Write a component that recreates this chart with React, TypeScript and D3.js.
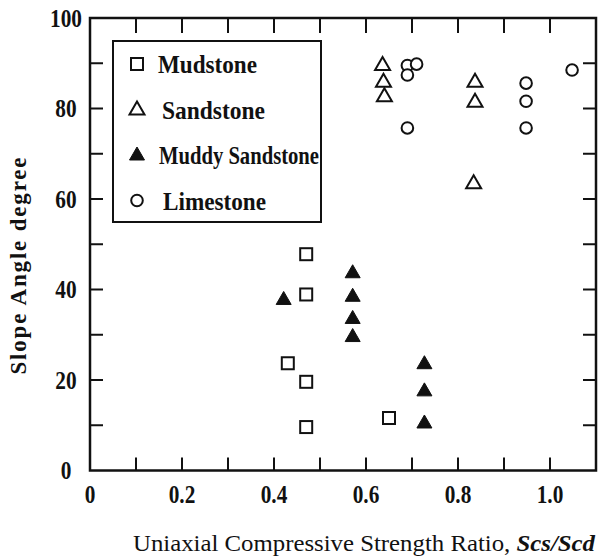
import React, { useEffect, useRef } from "react";
import * as d3 from "d3";

// rock type series: [strength ratio Scs/Scd, slope angle in degrees]
const mudstone: [number, number][] = [
  [0.47, 47.8], [0.47, 38.9], [0.43, 23.7], [0.47, 19.6], [0.47, 9.6], [0.65, 11.6],
];
const sandstone: [number, number][] = [
  [0.636, 89.6], [0.638, 85.9], [0.64, 82.7], [0.837, 85.9], [0.837, 81.5], [0.834, 63.5],
];
const muddySandstone: [number, number][] = [
  [0.421, 37.8], [0.571, 43.7], [0.571, 38.5], [0.571, 33.6], [0.571, 29.6],
  [0.727, 23.6], [0.727, 17.6], [0.727, 10.5],
];
const limestone: [number, number][] = [
  [0.69, 89.5], [0.71, 89.8], [0.69, 87.4], [0.69, 75.7],
  [0.948, 85.6], [0.948, 81.6], [0.948, 75.7], [1.048, 88.5],
];

const xTickLabels = [0, 0.2, 0.4, 0.6, 0.8, 1.0];
const yTickLabels = [0, 20, 40, 60, 80, 100];
const legendNames = ["Mudstone", "Sandstone", "Muddy Sandstone", "Limestone"];

const FONT = "'Liberation Serif', 'DejaVu Serif', serif";

type Kind = "square" | "triangle" | "filledTriangle" | "circle";

const drawMarker = (g: any, kind: Kind, x: number, y: number) => {
  if (kind === "square") {
    g.append("rect")
      .attr("x", x - 6).attr("y", y - 6)
      .attr("width", 12).attr("height", 12)
      .attr("fill", "#fff").attr("stroke", "#111").attr("stroke-width", 2);
  } else if (kind === "circle") {
    g.append("circle")
      .attr("cx", x).attr("cy", y).attr("r", 5.8)
      .attr("fill", "#fff").attr("stroke", "#111").attr("stroke-width", 2);
  } else {
    const filled = kind === "filledTriangle";
    const p = d3.path();
    p.moveTo(x, y - 8);
    p.lineTo(x + 7.5, y + 5);
    p.lineTo(x - 7.5, y + 5);
    p.closePath();
    g.append("path")
      .attr("d", p.toString())
      .attr("fill", filled ? "#111" : "#fff")
      .attr("stroke", "#111")
      .attr("stroke-width", filled ? 1 : 2)
      .attr("stroke-linejoin", "miter");
  }
};

const App = () => {
  const svgRef = useRef<SVGSVGElement>(null);

  useEffect(() => {
    const svg = d3.select(svgRef.current);
    svg.selectAll("*").remove();

    const left = 90, right = 596, top = 18, bottom = 470.5;
    const x = d3.scaleLinear().domain([0, 1.1]).range([left, right]);
    const y = d3.scaleLinear().domain([0, 100]).range([bottom, top]);

    const g = svg.append("g");

    // inward ticks on all four sides
    const tickLen = 13;
    d3.range(1, 11).forEach((i) => {
      const v = i / 10;
      g.append("line").attr("x1", x(v)).attr("x2", x(v))
        .attr("y1", bottom).attr("y2", bottom - tickLen)
        .attr("stroke", "#111").attr("stroke-width", 2);
      g.append("line").attr("x1", x(v)).attr("x2", x(v))
        .attr("y1", top).attr("y2", top + tickLen + 2)
        .attr("stroke", "#111").attr("stroke-width", 2);
    });
    d3.range(1, 10).forEach((i) => {
      const v = i * 10;
      g.append("line").attr("x1", left).attr("x2", left + tickLen)
        .attr("y1", y(v)).attr("y2", y(v))
        .attr("stroke", "#111").attr("stroke-width", 2);
      g.append("line").attr("x1", right).attr("x2", right - tickLen)
        .attr("y1", y(v)).attr("y2", y(v))
        .attr("stroke", "#111").attr("stroke-width", 2);
    });

    // frame
    g.append("rect")
      .attr("x", left).attr("y", top)
      .attr("width", right - left).attr("height", bottom - top)
      .attr("fill", "none").attr("stroke", "#111").attr("stroke-width", 2.5);

    // tick labels (tall, narrow bold digits)
    xTickLabels.forEach((v) => {
      g.append("text")
        .attr("x", x(v)).attr("y", 503)
        .attr("text-anchor", "middle")
        .attr("font-family", FONT).attr("font-weight", "bold")
        .attr("font-size", 26)
        .attr("transform", `translate(${x(v)},0) scale(0.82,1) translate(${-x(v)},0)`)
        .attr("fill", "#111")
        .text(v === 0 ? "0" : v.toFixed(1));
    });
    yTickLabels.forEach((v) => {
      g.append("text")
        .attr("x", 66).attr("y", y(v) + 9)
        .attr("text-anchor", "middle")
        .attr("font-family", FONT).attr("font-weight", "bold")
        .attr("font-size", 26)
        .attr("transform", `translate(66,0) scale(0.82,1) translate(-66,0)`)
        .attr("fill", "#111")
        .text(String(v));
    });

    // axis titles
    g.append("text")
      .attr("transform", "translate(26,266) rotate(-90)")
      .attr("text-anchor", "middle")
      .attr("font-family", FONT).attr("font-weight", "bold")
      .attr("font-size", 23)
      .attr("textLength", 217).attr("lengthAdjust", "spacing")
      .attr("fill", "#111")
      .text("Slope Angle degree");

    const xt = g.append("text")
      .attr("x", 133).attr("y", 551)
      .attr("font-family", FONT)
      .attr("font-size", 23)
      .attr("textLength", 462).attr("lengthAdjust", "spacingAndGlyphs")
      .attr("fill", "#111");
    xt.append("tspan").text("Uniaxial Compressive Strength Ratio, ");
    xt.append("tspan").attr("font-style", "italic").attr("font-weight", "bold").text("Scs/Scd");

    // data
    const series: [[number, number][], Kind][] = [
      [mudstone, "square"],
      [sandstone, "triangle"],
      [muddySandstone, "filledTriangle"],
      [limestone, "circle"],
    ];
    series.forEach(([data, kind]) => {
      data.forEach(([vx, vy]) => drawMarker(g, kind, x(vx), y(vy)));
    });

    // legend
    g.append("rect")
      .attr("x", 113).attr("y", 41)
      .attr("width", 208).attr("height", 181)
      .attr("fill", "#fff").attr("stroke", "#111").attr("stroke-width", 2);
    const legendKinds: Kind[] = ["square", "triangle", "filledTriangle", "circle"];
    const textX = [158, 162, 159, 163];
    const textW = [99, 103, 160, 103];
    legendNames.forEach((name, i) => {
      const cy = 64 + i * 45.5;
      drawMarker(g, legendKinds[i], 137, cy);
      g.append("text")
        .attr("x", textX[i]).attr("y", cy + 9)
        .attr("font-family", FONT).attr("font-weight", "bold")
        .attr("font-size", 26)
        .attr("textLength", textW[i]).attr("lengthAdjust", "spacingAndGlyphs")
        .attr("fill", "#111")
        .text(name);
    });
  }, []);

  return (
    <svg
      ref={svgRef}
      width={602}
      height={557}
      style={{ position: "absolute", left: 0, top: 0, background: "#fff" }}
    />
  );
};

export default App;
